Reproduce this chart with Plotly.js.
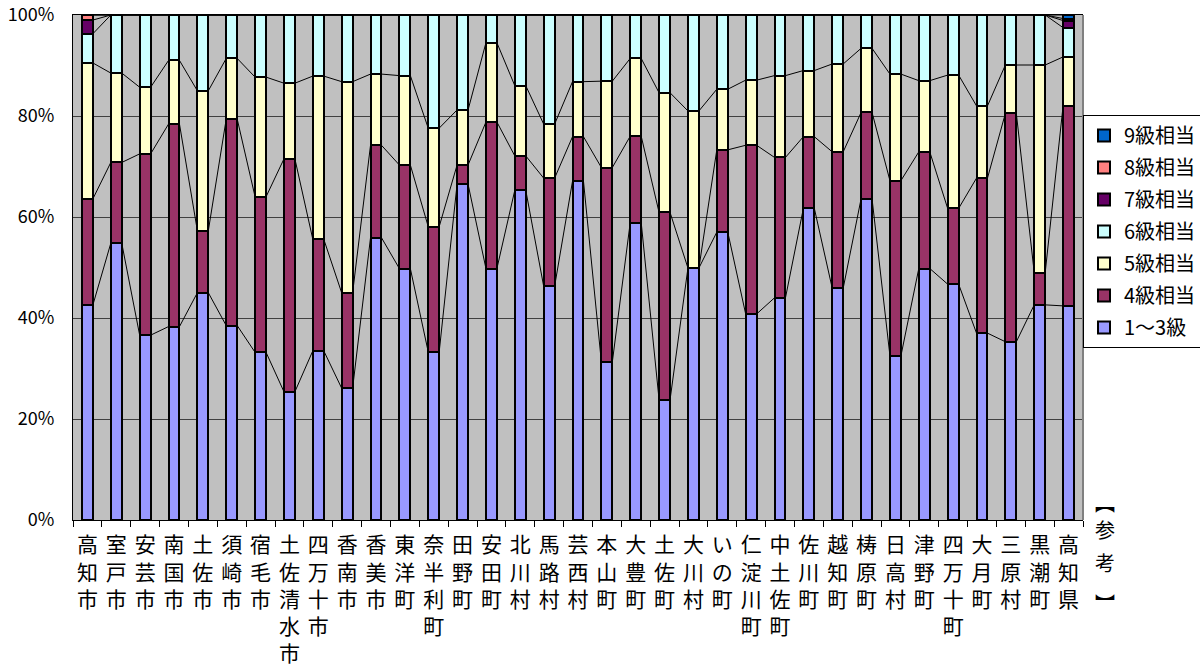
<!DOCTYPE html>
<html>
<head>
<meta charset="utf-8">
<script src="https://cdn.plot.ly/plotly-3.0.1.min.js"></script>
<style>html,body{margin:0;padding:0;background:#fff;}#chart{width:1200px;height:664px;}</style>
</head>
<body>
<div id="chart"></div>
<script>
const categories = ['高知市','室戸市','安芸市','南国市','土佐市','須崎市','宿毛市','土佐清水市','四万十市','香南市','香美市','東洋町','奈半利町','田野町','安田町','北川村','馬路村','芸西村','本山町','大豊町','土佐町','大川村','いの町','仁淀川町','中土佐町','佐川町','越知町','梼原町','日高村','津野町','四万十町','大月町','三原村','黒潮町','高知県'];

const seriesNames = ['1～3級','4級相当','5級相当','6級相当','7級相当','8級相当','9級相当'];

const grade13 = [42.6,54.8,36.6,38.3,45.0,38.5,33.2,25.4,33.5,26.1,55.9,49.8,33.3,66.5,49.8,65.3,46.3,67.1,31.3,58.9,23.8,49.9,57.0,40.8,44.0,61.7,45.9,63.6,32.5,49.8,46.7,37.0,35.3,42.6,42.4];
const grade4  = [21.0,16.0,35.9,40.1,12.3,40.9,30.8,46.1,22.1,18.9,18.3,20.5,24.8,3.8,29.0,6.8,21.4,8.8,38.5,17.1,37.1,0.0,16.3,33.4,27.8,14.2,27.0,17.1,34.7,23.1,15.0,30.7,45.2,6.4,39.6];
const grade5  = [26.9,17.7,13.2,12.6,27.7,12.0,23.7,15.0,32.3,41.8,14.1,17.7,19.5,10.9,15.7,13.9,10.7,10.9,17.1,15.4,23.7,31.1,12.0,12.9,16.2,13.1,17.4,12.7,21.1,14.1,26.4,14.3,9.6,41.1,9.7];
const grade6  = [5.8,11.5,14.3,9.0,15.0,8.6,12.3,13.5,12.1,13.2,11.7,12.0,22.4,18.8,5.5,14.0,21.6,13.2,13.1,8.6,15.4,19.0,14.7,12.9,12.0,11.0,9.7,6.6,11.7,13.0,11.9,18.0,9.9,9.9,5.8];
const grade7  = [2.7,0,0,0,0,0,0,0,0,0,0,0,0,0,0,0,0,0,0,0,0,0,0,0,0,0,0,0,0,0,0,0,0,0,1.4];
const grade8  = [1.0,0,0,0,0,0,0,0,0,0,0,0,0,0,0,0,0,0,0,0,0,0,0,0,0,0,0,0,0,0,0,0,0,0,0.4];
const grade9  = [0,0,0,0,0,0,0,0,0,0,0,0,0,0,0,0,0,0,0,0,0,0,0,0,0,0,0,0,0,0,0,0,0,0,0.7];

const colors = ['#9999FF','#993366','#FFFFCC','#CCFFFF','#660066','#FF8080','#0066CC'];
const yTickVals = [0,20,40,60,80,100];
const yTickText = ['0%','20%','40%','60%','80%','100%'];
const noteChars = ['︻','参','考','︼'];

const FONT = '"Noto Sans CJK JP", "Noto Sans", sans-serif';
const allValues = [grade13, grade4, grade5, grade6, grade7, grade8, grade9];
const idx = categories.map((_, i) => i);
const W = 0.38;

const traces = [];
const lineTraces = [];
let cum = categories.map(() => 0);
allValues.forEach((vals, k) => {
  traces.push({
    type: 'bar', x: idx, y: vals, width: W, name: seriesNames[k],
    legendgroup: 'g' + k, legendrank: allValues.length - k,
    marker: {color: colors[k], line: {color: '#000', width: 2}},
    hoverinfo: 'skip'
  });
  const tops = cum.map((c, i) => c + vals[i]);
  const lx = [], ly = [];
  for (let i = 0; i < idx.length - 1; i++) {
    lx.push(i + W / 2, i + 1 - W / 2, null);
    ly.push(tops[i], tops[i + 1], null);
  }
  lineTraces.push({type: 'scatter', mode: 'lines', x: lx, y: ly, showlegend: false,
    line: {color: '#000', width: 1}, hoverinfo: 'skip', cliponaxis: false});
  cum = tops;
});

// vertical 【参考】 note, one character per line
const notePos = [0.0356, -0.0198, -0.0832, -0.1644];
const annotations = noteChars.map((ch, j) => ({
  xref: 'paper', yref: 'paper', x: 1.022, y: notePos[j], xanchor: 'center', yanchor: 'middle',
  text: ch, showarrow: false, font: {size: 20, family: FONT, color: '#000'}
}));

const layout = {
  width: 1200, height: 664,
  margin: {l: 73, r: 112, t: 15, b: 144, pad: 0},
  paper_bgcolor: '#fff', plot_bgcolor: '#C0C0C0',
  barmode: 'stack',
  font: {family: FONT, color: '#000'},
  xaxis: {
    range: [-0.5, 34.5], tickmode: 'array', tickvals: idx,
    ticktext: categories.map(c => Array.from(c).join('<br>')),
    tickangle: 0, ticks: '', tickfont: {size: 21, family: FONT, color: '#000'},
    showline: true, linecolor: '#000', linewidth: 1, mirror: true,
    showgrid: false, zeroline: false, fixedrange: true,
    minor: {tickmode: 'linear', tick0: -0.5, dtick: 1, ticks: 'outside', ticklen: 6, tickcolor: '#000', tickwidth: 1, showgrid: false},
    ticklabelstandoff: 6
  },
  yaxis: {
    range: [0, 100], tickmode: 'array', tickvals: yTickVals, ticktext: yTickText,
    tickfont: {size: 18, family: FONT, color: '#000'}, ticks: '',
    showgrid: true, gridcolor: '#404040', gridwidth: 1,
    showline: true, linecolor: '#000', linewidth: 1, zeroline: false, fixedrange: true,
    ticklabelstandoff: 14
  },
  legend: {
    xref: 'container', x: 0.9025, xanchor: 'left', y: 0.802, yanchor: 'top',
    bgcolor: '#fff', bordercolor: '#000', borderwidth: 1,
    font: {size: 20, family: FONT, color: '#000'}, traceorder: 'grouped',
    tracegroupgap: 3, itemclick: false, itemdoubleclick: false
  },
  shapes: [
    {type: 'line', xref: 'paper', yref: 'paper', x0: 1, x1: 1, y0: 0, y1: 1, line: {color: '#808080', width: 2}}
  ],
  annotations: annotations,
  showlegend: true
};

Plotly.newPlot('chart', traces.concat(lineTraces), layout, {displayModeBar: false, staticPlot: true});
</script>
</body>
</html>
